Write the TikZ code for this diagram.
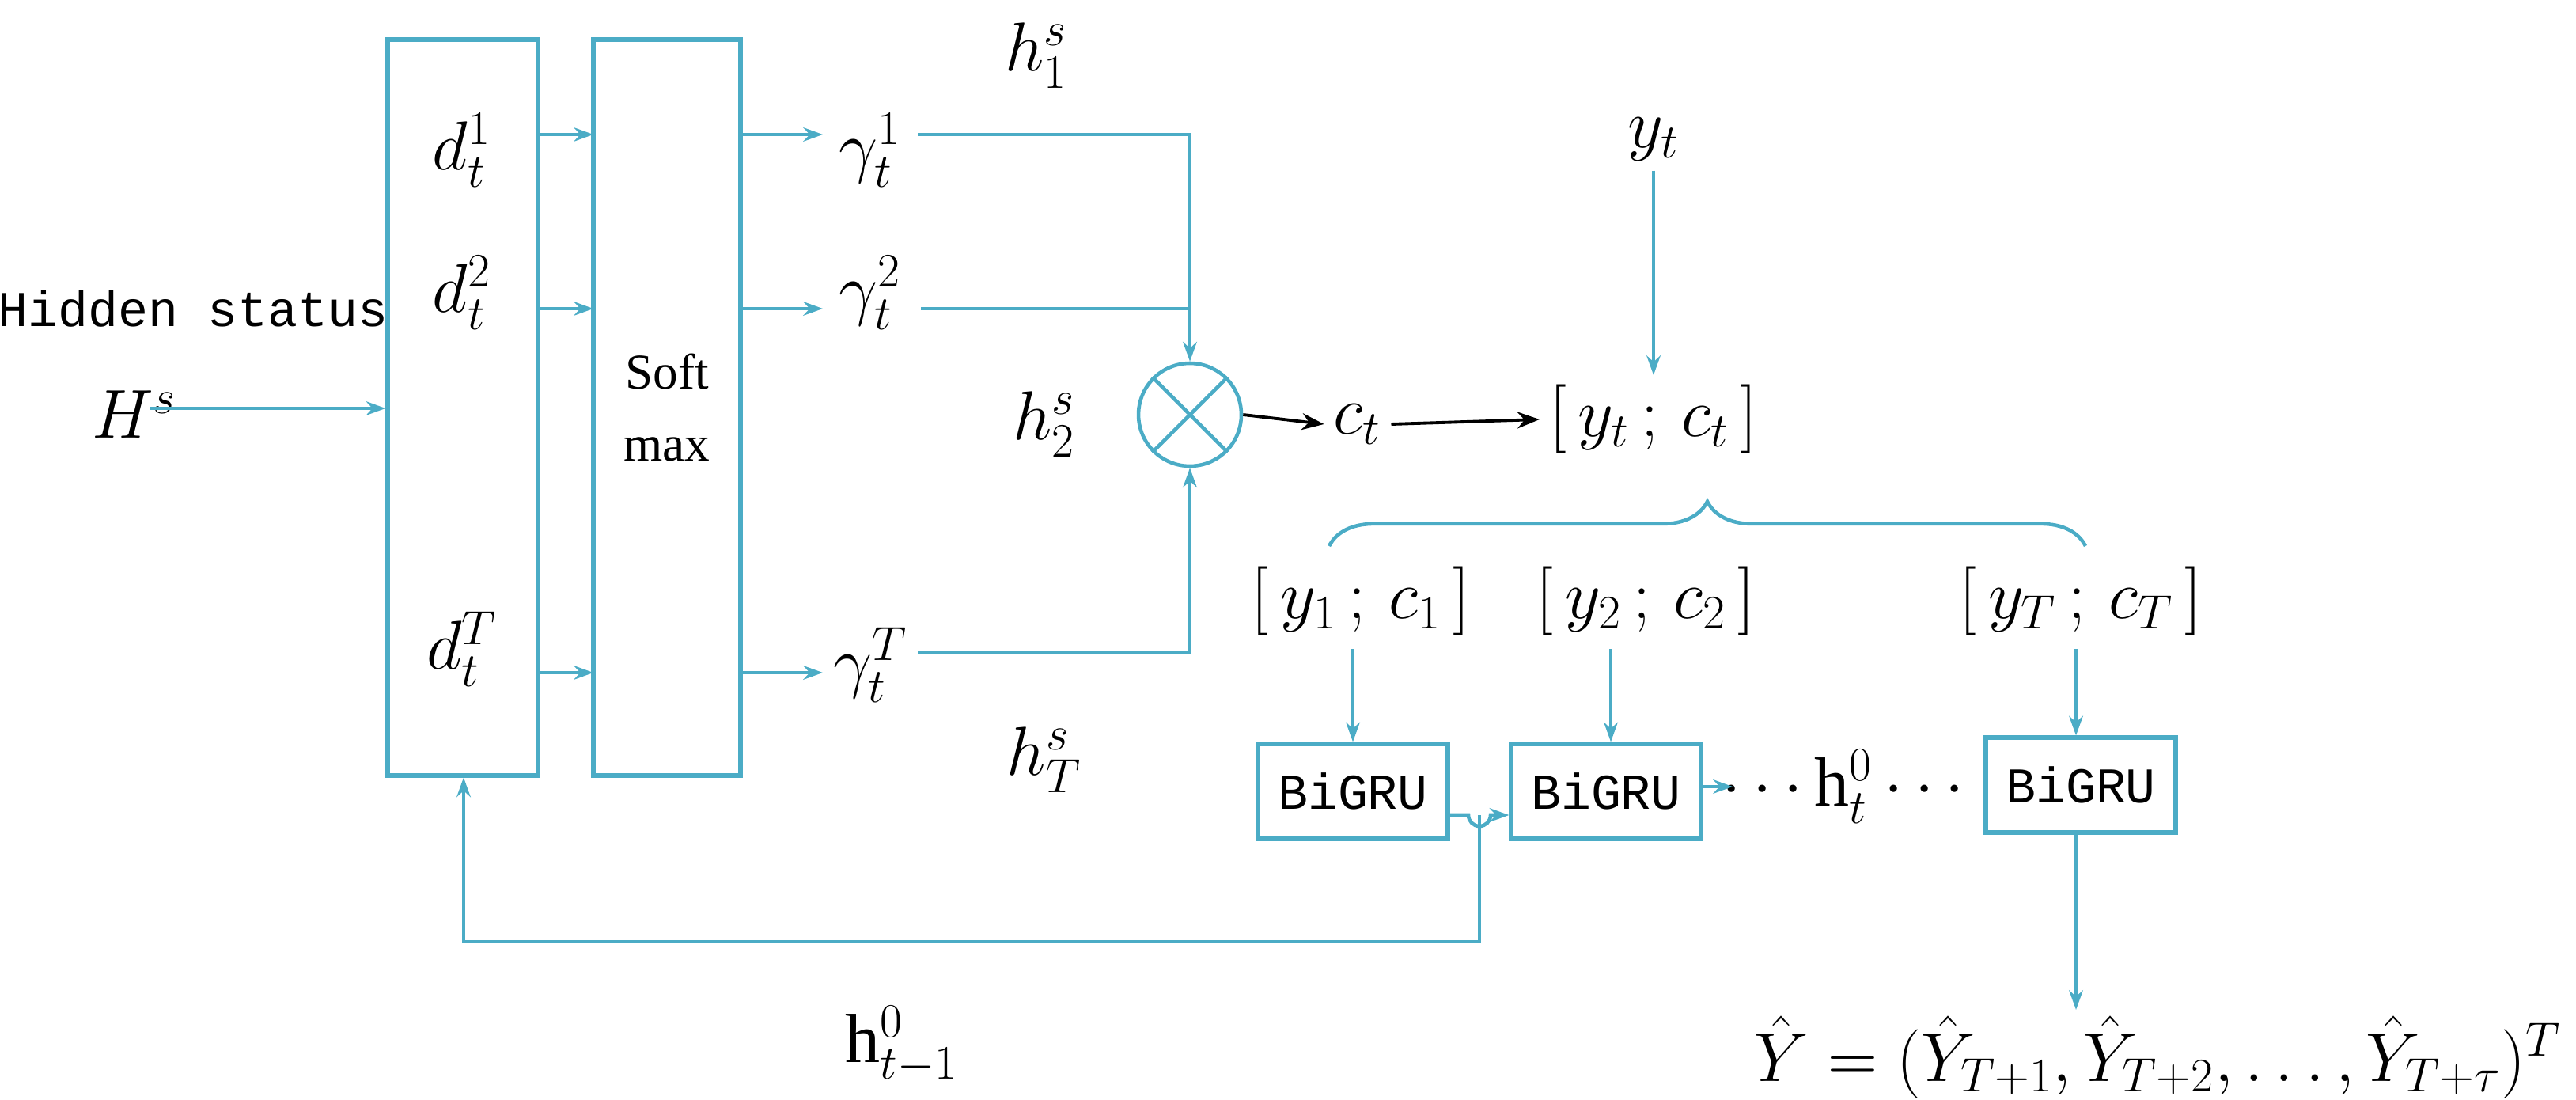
\documentclass[tikz,border=0pt]{standalone}
\usepackage{fontspec}
\setmainfont{Liberation Serif}
\setmonofont{Liberation Mono}
\usetikzlibrary{arrows.meta,decorations.pathreplacing}
\definecolor{cy}{HTML}{4BACC6}
\begin{document}
\begin{tikzpicture}[x=0.02cm,y=-0.02cm,
  ln/.style={draw=cy,line width=1.3pt},
  ar/.style={ln,-{Stealth[length=7pt,width=5pt]}},
  bar/.style={draw=black,line width=1.1pt,-{Stealth[length=8pt,width=6pt]}},
  bx/.style={draw=cy,line width=1.5pt,inner sep=0pt},
  lb/.style={font=\fontsize{25}{27}\selectfont},
  gr/.style={bx,minimum width=2.4cm,minimum height=1.2cm,font=\ttfamily\fontsize{18}{20}\selectfont}]
\useasboundingbox (0,0) rectangle (1628,695);
\node[bx,minimum width=1.9cm,minimum height=9.3cm] (D) at (292.5,257.5) {};
\node[bx,minimum width=1.86cm,minimum height=9.3cm,align=center,font=\fontsize{18}{26}\selectfont] (S) at (421.5,257.5) {Soft\\max};
\node[font=\ttfamily\fontsize{18}{20}\selectfont] (hs) at (122,195) {Hidden status};
\node[lb] (H) at (85,262) {$H^{s}$};
\coordinate (Hs) at (95,258);
\draw[ar] (Hs) -- (Hs -| D.west);
\node[lb] (d1) at (292,95) {$d_t^{1}$};
\node[lb] (d2) at (292,185) {$d_t^{2}$};
\node[lb] (dT) at (292,410) {$d_t^{T}$};
\node[lb] (g1) at (550,95) {$\gamma_t^{1}$};
\node[lb] (g2) at (550,185) {$\gamma_t^{2}$};
\node[lb] (gT) at (550,420) {$\gamma_t^{T}$};
\foreach \yy/\g in {85/g1,195/g2,425/gT}{
  \draw[ar] (340,\yy) -- (375,\yy);
  \draw[ar] (468,\yy) -- (520,\yy);
}
\node[draw=cy,line width=1.3pt,circle,minimum size=1.3cm,inner sep=0pt] (X) at (752,262) {};
\draw[draw=cy,line width=1.3pt] (X.45) -- (X.225) (X.135) -- (X.315);
\draw[ar] (580,85) -- (752,85) -- (X.north);
\draw[ln] (582,195) -- (752,195);
\draw[ar] (580,412) -- (752,412) -- (X.south);
\node[lb] (h1) at (655,35) {$h_1^{s}$};
\node[lb] (h2) at (660,268) {$h_2^{s}$};
\node[lb] (hT) at (660,480) {$h_T^{s}$};
\node[lb] (c) at (858,268) {$c_t$};
\node[lb] (yc) at (1045,265) {$[\,y_t\,;\,c_t\,]$};
\node[lb] (y) at (1045,88) {$y_t$};
\draw[bar] (X.east) -- (c.west);
\draw[bar] (c.east) -- (yc.west);
\draw[ar] (y.south) -- (yc.north);
\draw[ln,decorate,decoration={brace,amplitude=16pt}] (840,345) -- (1318,345);
\node[lb] (yc1) at (860,380) {$[\,y_1\,;\,c_1\,]$};
\node[lb] (yc2) at (1040,380) {$[\,y_2\,;\,c_2\,]$};
\node[lb] (ycT) at (1315,380) {$[\,y_T\,;\,c_T\,]$};
\node[gr] (B1) at (855,500) {BiGRU};
\node[gr] (B2) at (1015,500) {BiGRU};
\node[gr] (B3) at (1315,496) {BiGRU};
\draw[ar] (855,410) -- (B1.north);
\draw[ar] (1018,410) -- (B2.north -| 1018,0);
\draw[ar] (1312,410) -- (B3.north -| 1312,0);
\draw[ar] (B1.east |- 0,515) -- (928,515) arc (180:0:7) -- (B2.west |- 0,515);
\coordinate (fb) at (935,515);
\draw[ar] (fb) -- (935,595) -- (293,595) -- (D.south -| 293,0);
\node[lb] (ht) at (1165,497) {$\cdots\mathrm{h}_t^{0}\cdots$};
\draw[ar] (B2.east |- 0,497) -- (1095,497);
\coordinate (yh) at (1312,638);
\draw[ar] (B3.south -| 1312,0) -- (yh);
\node[lb] (hm) at (570,660) {$\mathrm{h}_{t-1}^{0}$};
\node[lb,anchor=east] (Y) at (1625,668) {$\hat{Y}=(\hat{Y}_{T+1},\hat{Y}_{T+2},\ldots,\hat{Y}_{T+\tau})^{T}$};
\end{tikzpicture}
\end{document}
